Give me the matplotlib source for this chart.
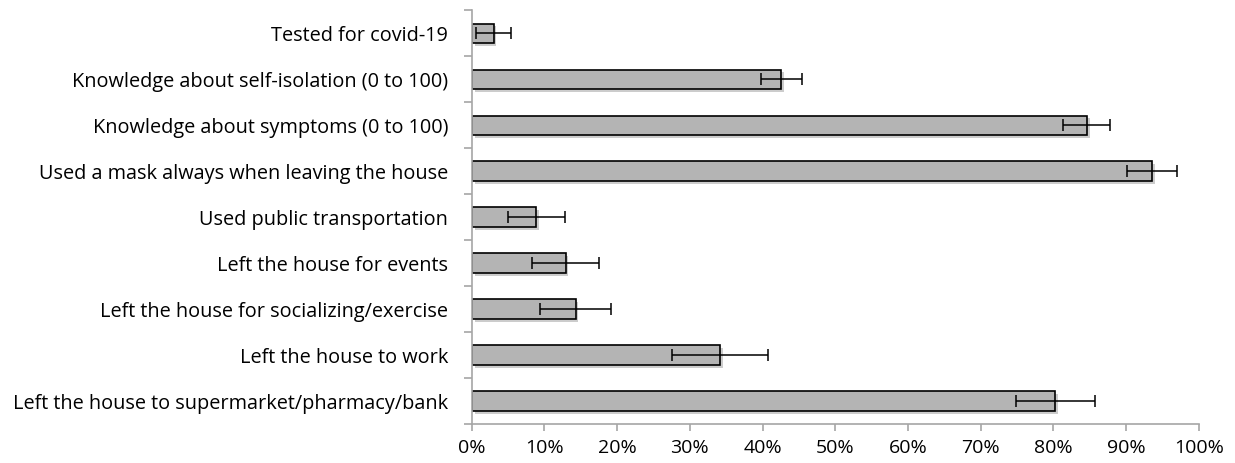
#!/usr/bin/env python3
"""Horizontal bar chart of covid-19 behaviours with error bars."""

import numpy as np
import matplotlib
matplotlib.use('Agg')
import matplotlib.pyplot as plt
import matplotlib.patheffects as pe
from matplotlib.ticker import FixedLocator, PercentFormatter

#- data (percent), top to bottom

labels = ['Tested for covid-19',
          'Knowledge about self-isolation (0 to 100)',
          'Knowledge about symptoms (0 to 100)',
          'Used a mask always when leaving the house',
          'Used public transportation',
          'Left the house for events',
          'Left the house for socializing/exercise',
          'Left the house to work',
          'Left the house to supermarket/pharmacy/bank']
values = [3.0, 42.6, 84.6, 93.6, 8.9, 12.9, 14.3, 34.2, 80.3]
errors = [2.4, 2.8, 3.2, 3.4, 3.95, 4.6, 4.9, 6.6, 5.5]

plt.rcParams['font.family'] = ['Open Sans', 'DejaVu Sans']

fig = plt.figure(figsize=(12.35, 4.63), dpi=100)
ax = fig.add_axes([0.382, 0.084, 0.5886, 0.894])

y = np.arange(len(labels))
bars = ax.barh(y, values, height=0.42, color='#b4b4b4', edgecolor='black',
               linewidth=1.2, zorder=2)
for b in bars:
    b.set_path_effects([pe.SimplePatchShadow(offset=(2, -2), alpha=0.25),
                        pe.Normal()])
ax.errorbar(values, y, xerr=errors, fmt='none', ecolor='black',
            elinewidth=1.1, capsize=4.5, capthick=1.1, zorder=3)

ax.set_ylim(len(labels) - 0.5, -0.5)
ax.set_xlim(0, 100)

ax.set_yticks(y)
ax.set_yticklabels(labels, fontsize=14.3, color='black')
ax.yaxis.set_minor_locator(FixedLocator(np.arange(-0.5, len(labels), 1)))
ax.tick_params(axis='y', which='major', length=0, pad=17)
ax.tick_params(axis='y', which='minor', length=6, width=1.2, color='#a6a6a6')

ax.set_xticks(np.arange(0, 101, 10))
ax.xaxis.set_major_formatter(PercentFormatter(decimals=0))
ax.tick_params(axis='x', length=5, width=1.2, color='#a6a6a6', pad=6,
               labelsize=14)

for s in ['top', 'right']:
    ax.spines[s].set_visible(False)
for s in ['left', 'bottom']:
    ax.spines[s].set_color('#a6a6a6')
    ax.spines[s].set_linewidth(1.2)

plt.savefig('out.png', dpi=100)
